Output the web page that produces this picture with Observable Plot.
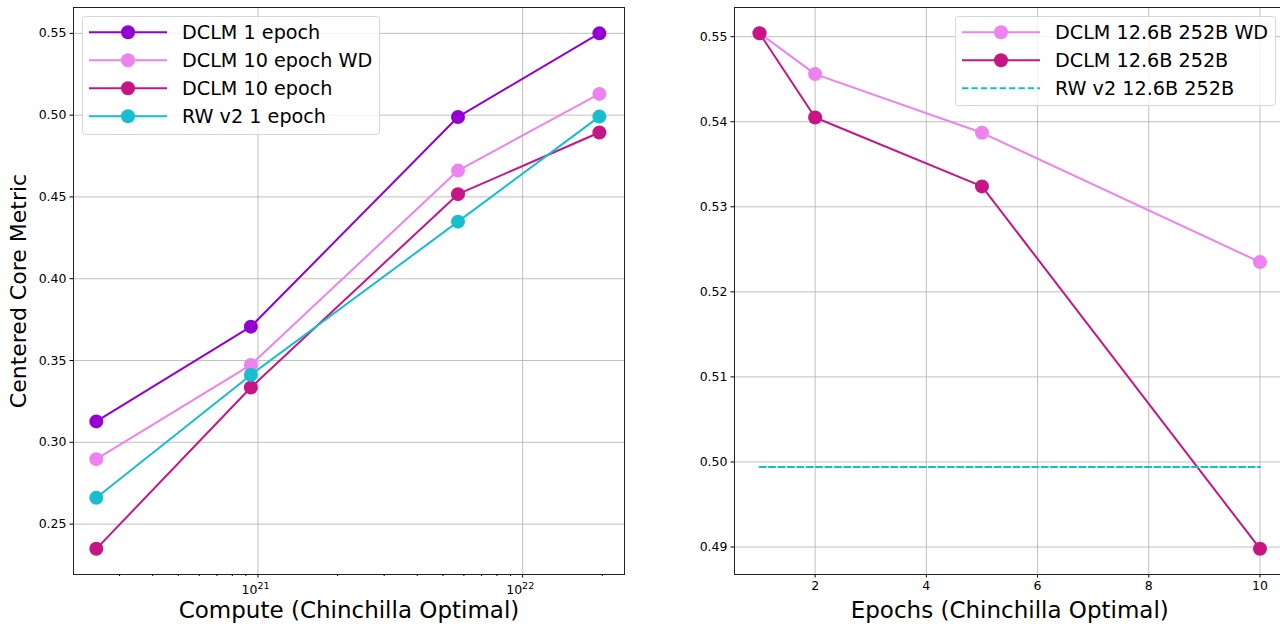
<!DOCTYPE html>
<html>
<head>
<meta charset="utf-8">
<script src="https://cdn.jsdelivr.net/npm/d3@7"></script>
<script src="https://cdn.jsdelivr.net/npm/@observablehq/plot@0.6"></script>
<style>
  html, body { margin: 0; padding: 0; background: #ffffff; }
  #wrap { position: relative; width: 1280px; height: 624px; overflow: hidden; background: #ffffff; font-family: "DejaVu Sans", sans-serif; }
  .panel { position: absolute; top: 0; height: 624px; }
  .panel svg { max-width: none !important; }
  .legend { position: absolute; }
</style>
</head>
<body>
<div id="wrap">
  <div id="left" class="panel" style="left:0px; width:640px"></div>
  <div id="right" class="panel" style="left:640px; width:650px"></div>
  <div id="legL" class="legend" style="left:82px; top:16px"></div>
  <div id="legR" class="legend" style="left:955px; top:16px"></div>
</div>
<script>
// ---------- Left panel data ----------
const computeX = [2.45e20, 9.4e20, 5.7e21, 1.95e22];
const leftSeriesNames = ["DCLM 1 epoch", "DCLM 10 epoch WD", "DCLM 10 epoch", "RW v2 1 epoch"];
const dclm1Epoch = [0.3128, 0.3707, 0.4989, 0.5500];
const dclm10EpochWD = [0.2897, 0.3473, 0.4661, 0.5130];
const dclm10Epoch = [0.2349, 0.3335, 0.4517, 0.4894];
const rwv21Epoch = [0.2661, 0.3412, 0.4349, 0.4991];
const leftColors = ["#9400d3", "#ee82ee", "#c71585", "#17becf"];
const leftYTicks = [0.25, 0.30, 0.35, 0.40, 0.45, 0.50, 0.55];
const leftXMajor = [1e21, 1e22];
const leftXMinor = [3e20, 4e20, 5e20, 6e20, 7e20, 8e20, 9e20, 2e21, 3e21, 4e21, 5e21, 6e21, 7e21, 8e21, 9e21, 2e22];
const leftXLabel = "Compute (Chinchilla Optimal)";
const leftYLabel = "Centered Core Metric";

// ---------- Right panel data ----------
const epochs = [1, 2, 5, 10];
const rightSeriesNames = ["DCLM 12.6B 252B WD", "DCLM 12.6B 252B", "RW v2 12.6B 252B"];
const dclm252WD = [0.5504, 0.5456, 0.5387, 0.5235];
const dclm252 = [0.5504, 0.5405, 0.5324, 0.4898];
const rwv2Baseline = 0.4994;
const rwv2EpochSpan = [1, 10];
const rightColors = ["#ee82ee", "#c71585", "#17becf"];
const rightYTicks = [0.49, 0.50, 0.51, 0.52, 0.53, 0.54, 0.55];
const rightXTicks = [2, 4, 6, 8, 10];
const rightXLabel = "Epochs (Chinchilla Optimal)";

// ---------- helpers ----------
const FONT = "DejaVu Sans";
const fmt2 = d3.format(".2f");
const gridStyle = {stroke: "#b0b0b0", strokeOpacity: 1, strokeWidth: 0.8};
const DASH = "6.4,3";

function seriesMarks(xs, ys, color) {
  const rows = xs.map((x, i) => ({x, y: ys[i]}));
  return [
    Plot.line(rows, {x: "x", y: "y", stroke: color, strokeWidth: 2}),
    Plot.dot(rows, {x: "x", y: "y", r: 7, fill: color, stroke: "none"})
  ];
}

// ---------- Left plot ----------
const leftValues = [dclm1Epoch, dclm10EpochWD, dclm10Epoch, rwv21Epoch];
const leftPlot = Plot.plot({
  width: 640, height: 624,
  marginLeft: 73, marginRight: 16, marginTop: 7, marginBottom: 50,
  style: {fontFamily: FONT, fontSize: "12.5px", color: "black", background: "transparent", overflow: "visible"},
  x: {type: "log", domain: [Math.pow(10, 20.303), Math.pow(10, 22.385)], axis: null},
  y: {domain: [0.2192, 0.5658], axis: null},
  marks: [
    Plot.gridX(leftXMajor, gridStyle),
    Plot.gridY(leftYTicks, gridStyle),
    ...leftValues.flatMap((v, i) => seriesMarks(computeX, v, leftColors[i])),
    Plot.frame({stroke: "#222", strokeWidth: 1}),
    Plot.axisX(leftXMajor, {tickSize: 3.5, tickFormat: () => "", label: null}),
    Plot.axisX(leftXMinor, {tickSize: 2, tickFormat: () => "", label: null}),
    Plot.text(leftXMajor, {x: d => d, frameAnchor: "bottom", text: () => "10", textAnchor: "end", lineAnchor: "bottom", dx: -0.5, dy: 19, fontSize: 12.5, fill: "black"}),
    Plot.text(leftXMajor, {x: d => d, frameAnchor: "bottom", text: d => String(Math.round(Math.log10(d))), textAnchor: "start", lineAnchor: "bottom", dx: -0.5, dy: 14.5, fontSize: 9.5, fill: "black"}),
    Plot.axisY(leftYTicks, {tickSize: 3.5, tickPadding: 3.5, tickFormat: fmt2, label: null, fontSize: 12.5}),
    Plot.text([leftXLabel], {text: d => d, frameAnchor: "bottom", textAnchor: "middle", dy: 43, lineAnchor: "bottom", fontSize: 23, fill: "black"}),
    Plot.text([leftYLabel], {text: d => d, frameAnchor: "left", textAnchor: "middle", dx: -48, rotate: -90, lineAnchor: "bottom", fontSize: 22, fill: "black"})
  ]
});
document.getElementById("left").appendChild(leftPlot);

// ---------- Right plot ----------
const rightPlot = Plot.plot({
  width: 650, height: 624,
  marginLeft: 94, marginRight: 5.5, marginTop: 7, marginBottom: 50,
  style: {fontFamily: FONT, fontSize: "12.5px", color: "black", background: "transparent", overflow: "visible"},
  x: {domain: [0.55, 10.45], axis: null},
  y: {domain: [0.48677, 0.55343], axis: null},
  marks: [
    Plot.gridX(rightXTicks, gridStyle),
    Plot.gridY(rightYTicks, gridStyle),
    ...seriesMarks(epochs, dclm252WD, rightColors[0]),
    ...seriesMarks(epochs, dclm252, rightColors[1]),
    Plot.line(rwv2EpochSpan.map(x => ({x, y: rwv2Baseline})), {x: "x", y: "y", stroke: rightColors[2], strokeWidth: 2, strokeDasharray: DASH}),
    Plot.frame({stroke: "#222", strokeWidth: 1}),
    Plot.axisX(rightXTicks, {tickSize: 3.5, tickPadding: 3.5, tickFormat: d => String(d), label: null, fontSize: 12.5}),
    Plot.axisY(rightYTicks, {tickSize: 3.5, tickPadding: 3.5, tickFormat: fmt2, label: null, fontSize: 12.5}),
    Plot.text([rightXLabel], {text: d => d, frameAnchor: "bottom", textAnchor: "middle", dy: 43, lineAnchor: "bottom", fontSize: 23, fill: "black"})
  ]
});
document.getElementById("right").appendChild(rightPlot);

// ---------- Legends ----------
function buildLegend(el, names, colors, dashedIdx, w, h) {
  const svg = d3.select(el).append("svg").attr("width", w).attr("height", h)
    .style("overflow", "visible").style("font-family", FONT);
  svg.append("rect").attr("x", 0.5).attr("y", 0.5).attr("width", w - 1).attr("height", h - 1)
    .attr("rx", 3).attr("fill", "rgba(255,255,255,0.8)").attr("stroke", "#d6d6d6").attr("stroke-width", 1);
  names.forEach((name, i) => {
    const cy = 16.3 + i * 28;
    const g = svg.append("g");
    const line = g.append("line").attr("x1", 7).attr("x2", 85).attr("y1", cy).attr("y2", cy)
      .attr("stroke", colors[i]).attr("stroke-width", 2);
    if (i === dashedIdx) {
      line.attr("stroke-dasharray", DASH);
    } else {
      g.append("circle").attr("cx", 46).attr("cy", cy).attr("r", 7).attr("fill", colors[i]);
    }
    g.append("text").attr("x", 100).attr("y", cy + 7).attr("font-size", 19.2).attr("fill", "black").text(name);
  });
}
buildLegend(document.getElementById("legL"), leftSeriesNames, leftColors, -1, 298, 119);
buildLegend(document.getElementById("legR"), rightSeriesNames, rightColors, 2, 321, 90);
</script>
</body>
</html>
